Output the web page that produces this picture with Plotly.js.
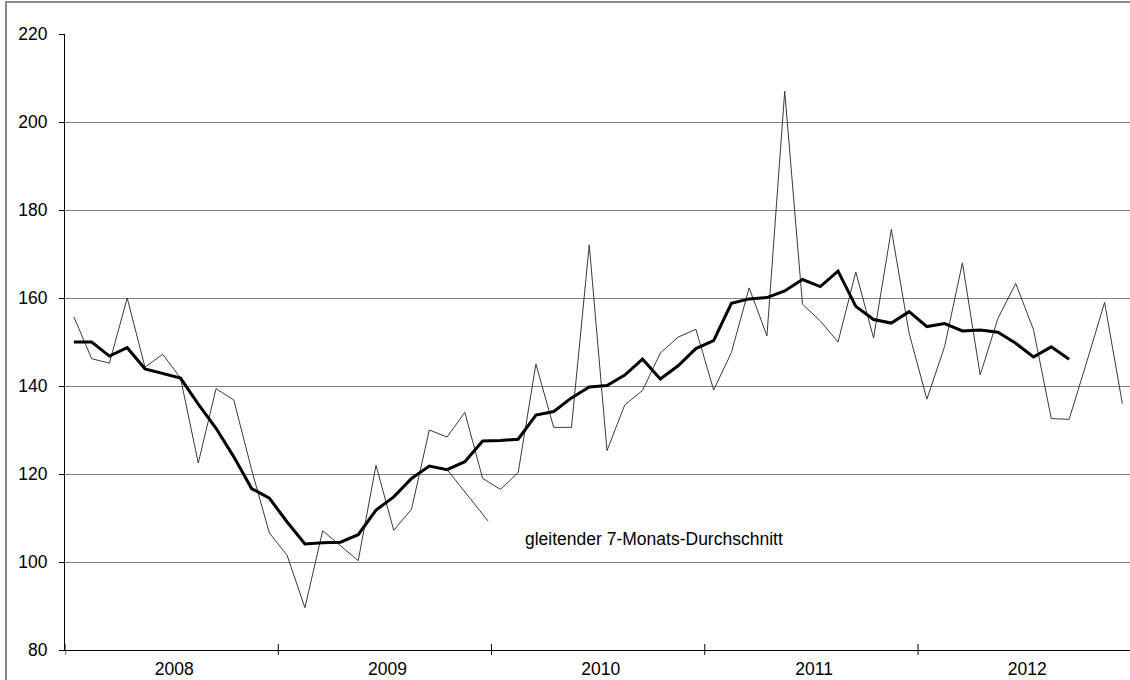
<!DOCTYPE html>
<html>
<head>
<meta charset="utf-8">
<script src="https://cdn.plot.ly/plotly-3.0.1.min.js"></script>
<style>
  html, body { margin: 0; padding: 0; background: #ffffff; }
  #chart { width: 1130px; height: 680px; }
</style>
</head>
<body>
<div id="chart"></div>
<script>
// ---- data ----
const years = ['2008', '2009', '2010', '2011', '2012'];
const monthsPerYear = 12;

// monthly values, Jan 2008 .. Dec 2012
const monthlyValues = [
  155.7, 146.2, 145.2, 160.0, 144.3, 147.2, 141.8, 122.5, 139.4, 136.8, 121.0, 106.6,
  101.5,  89.6, 107.1, 103.7, 100.3, 122.0, 107.2, 112.0, 130.0, 128.4, 134.0, 119.0,
  116.5, 120.3, 145.0, 130.6, 130.6, 172.1, 125.3, 135.7, 139.0, 147.5, 151.1, 152.9,
  139.1, 147.6, 162.3, 151.4, 207.0, 158.6, 154.8, 150.0, 165.9, 150.9, 175.6, 152.0,
  137.0, 149.0, 168.0, 142.5, 155.4, 163.3, 152.8, 132.6, 132.4, 145.5, 159.0, 136.0
];

// gleitender 7-Monats-Durchschnitt (ends before the last months)
const movingAverage = [
  150.0, 150.0, 146.8, 148.7, 143.9, 142.8, 141.8, 135.9, 130.4, 123.9, 116.7, 114.5,
  109.1, 104.1, 104.4, 104.5, 106.2, 111.8, 114.8, 119.0, 121.8, 121.0, 122.8, 127.5,
  127.6, 127.9, 133.4, 134.2, 137.3, 139.8, 140.1, 142.5, 146.1, 141.6, 144.6, 148.5,
  150.3, 158.8, 159.8, 160.1, 161.6, 164.2, 162.6, 166.1, 158.1, 155.1, 154.3, 156.9,
  153.5, 154.2, 152.5, 152.7, 152.2, 149.7, 146.6, 148.9, 146.1
];

const annotationText = 'gleitender 7-Monats-Durchschnitt';

// ---- derived ----
const monthIndex = monthlyValues.map((_, i) => i);
const maIndex = movingAverage.map((_, i) => i);
const yearCenters = years.map((_, k) => k * monthsPerYear + (monthsPerYear - 1) / 2 + 0.15);
const yearBounds = years.map((_, k) => k * monthsPerYear - 0.5);
const calloutIdx = 21;

const FONT = 'Liberation Sans, Arial, sans-serif';
const FS = 17.5;
const xRange = [-0.5, 59.43];
const plotH = 680 - 34 - 30;

const traces = [
  {
    x: monthIndex, y: monthlyValues, type: 'scatter', mode: 'lines',
    line: { color: '#3a3a3a', width: 1 }, hoverinfo: 'skip', showlegend: false
  },
  {
    x: maIndex, y: movingAverage, type: 'scatter', mode: 'lines',
    line: { color: '#000000', width: 3 }, hoverinfo: 'skip', showlegend: false
  }
];

// year-boundary tick marks crossing the x axis
const tickShapes = yearBounds.map(b => ({
  type: 'line', xref: 'x', yref: 'paper',
  x0: b, x1: b, y0: -5 / plotH, y1: 6 / plotH,
  line: { color: '#000000', width: 1 }
}));

const layout = {
  width: 1130, height: 680,
  margin: { l: 65, r: 0, t: 34, b: 30, pad: 0 },
  paper_bgcolor: '#ffffff', plot_bgcolor: '#ffffff',
  font: { family: FONT, size: FS, color: '#000000' },
  showlegend: false,
  xaxis: {
    range: xRange, tickmode: 'array', tickvals: yearCenters, ticktext: years,
    ticks: '', showgrid: false, zeroline: false,
    showline: true, linecolor: '#000000', linewidth: 1,
    tickfont: { family: FONT, size: FS, color: '#000000' },
    ticklabelstandoff: 3, fixedrange: true
  },
  yaxis: {
    range: [80, 220], tickmode: 'linear', tick0: 80, dtick: 20,
    ticks: 'outside', ticklen: 5, tickcolor: '#000000', tickwidth: 1,
    showgrid: true, gridcolor: '#808080', gridwidth: 1, zeroline: false,
    showline: true, linecolor: '#000000', linewidth: 1,
    tickfont: { family: FONT, size: FS, color: '#000000' },
    ticklabelstandoff: 8, fixedrange: true
  },
  shapes: [
    {
      type: 'rect', xref: 'paper', yref: 'paper',
      x0: -0.0554, x1: 1.02, y0: -0.2, y1: 1.052,
      line: { color: '#8a8a8a', width: 2 }, fillcolor: 'rgba(0,0,0,0)', layer: 'below'
    }
  ].concat(tickShapes),
  annotations: [
    {
      x: calloutIdx, y: movingAverage[calloutIdx], xref: 'x', yref: 'y',
      ax: 23.39, ay: 108.9, axref: 'x', ayref: 'y',
      text: ' ', font: { size: 1 }, showarrow: true, arrowhead: 0,
      arrowwidth: 1, arrowcolor: '#3a3a3a', standoff: 0, startstandoff: 0
    },
    {
      x: 25.3, y: 105.3, xref: 'x', yref: 'y', xanchor: 'left', yanchor: 'middle',
      text: annotationText, showarrow: false,
      font: { family: FONT, size: FS, color: '#000000' }
    }
  ]
};

Plotly.newPlot('chart', traces, layout, { staticPlot: true, displayModeBar: false });
</script>
</body>
</html>
